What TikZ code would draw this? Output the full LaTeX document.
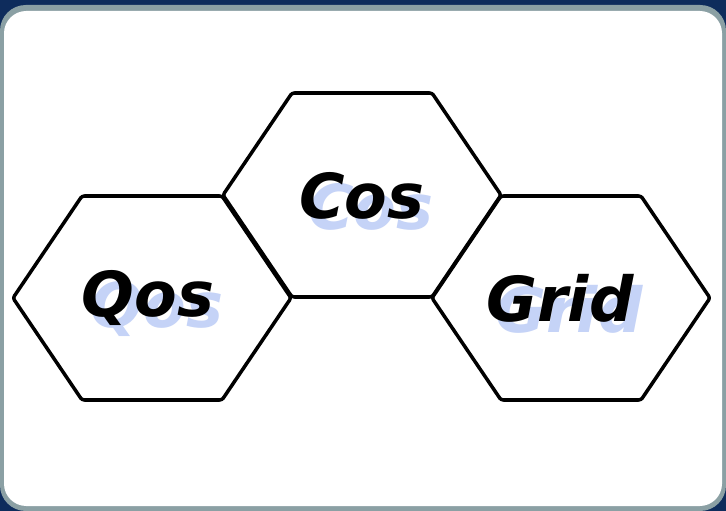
\documentclass[tikz,border=0pt]{standalone}
\usepackage{fontspec}
\setmainfont{DejaVu Sans}
\usetikzlibrary{math}
\definecolor{navy}{RGB}{14,44,92}
\definecolor{rim}{RGB}{139,160,164}
\definecolor{shade}{RGB}{197,211,247}

\begin{document}
\begin{tikzpicture}[x=0.03cm,y=-0.03cm,
  hexline/.style={line width=3pt,rounded corners=2pt,line join=round},
  word/.style={font=\fontsize{53}{56}\selectfont\bfseries\itshape,inner sep=0pt},
  wordshade/.style={word,text=shade}]
\tikzmath{
\W=139;
\w=70;
\H=102;
\dx=9;
\dy=11;
}
\useasboundingbox (0,0) rectangle (726,511);
%backdrop
\fill[navy] (0,0) rectangle (726,511);
\fill[rim,rounded corners=22] (0,5) rectangle (726,511);
\fill[white,rounded corners=19] (4,11) rectangle (722,506);

%hexagons
\foreach \cx/\cy in {152/298, 362/195, 571/298}
  \draw[hexline] (\cx-\W,\cy) -- (\cx-\w,\cy-\H) -- (\cx+\w,\cy-\H)
    -- (\cx+\W,\cy) -- (\cx+\w,\cy+\H) -- (\cx-\w,\cy+\H) -- cycle;

%labels
\node[wordshade] (qosshade) at (148+\dx,298+\dy) {Qos};
\node[word] (qos) at (148,298) {Qos};
\node[wordshade] (cosshade) at (362+\dx,196+\dy) {Cos};
\node[word] (cos) at (362,196) {Cos};
\node[wordshade] (gridshade) at (560+\dx,298+\dy) {Grid};
\node[word] (grid) at (560,298) {Grid};
\end{tikzpicture}
\end{document}
